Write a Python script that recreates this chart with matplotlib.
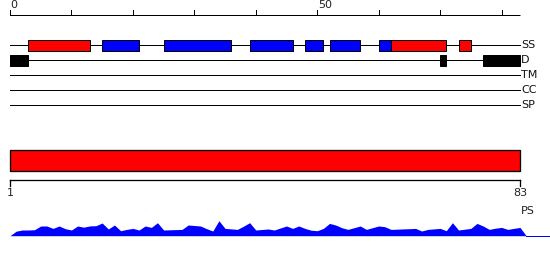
import matplotlib
matplotlib.use("Agg")
import matplotlib.pyplot as plt
from matplotlib.patches import Rectangle

# ---------------- data ----------------
seq_len = 83
track_names = ["SS", "D", "TM", "CC", "SP"]
helix_segments = [(4, 13), (63, 71), (74, 75)]          # red, 1-indexed residues
strand_segments = [(16, 21), (26, 36), (40, 46), (49, 51), (53, 57), (61, 62)]  # blue
disorder_segments = [(1, 3), (71, 71), (78, 83)]         # black
top_tick_values = [0, 10, 20, 30, 40, 50, 60, 70, 80]
top_tick_labels = ["0", "", "", "", "", "50", "", "", ""]
ps_domain = (1, 83)
ps_tick_labels = ["1", "83"]
profile = [0, 4.5, 5.7, 5.7, 6.0, 9.7, 9.7, 7.3, 9.7, 7.0,
           5.7, 9.7, 8.5, 9.8, 10.0, 12.7, 6.7, 10.7, 5.0, 6.3,
           7.3, 5.7, 9.7, 8.3, 13.0, 5.7, 5.9, 6.1, 6.3, 10.7,
           10.2, 9.7, 7.0, 4.7, 15.0, 7.3, 6.8, 6.3, 9.5, 13.0,
           5.7, 6.2, 6.7, 5.7, 7.7, 9.7, 7.3, 9.7, 7.3, 5.5,
           5.0, 7.3, 12.3, 10.7, 8.0, 6.3, 8.0, 9.7, 6.3, 8.0,
           9.7, 9.0, 6.3, 6.5, 6.8, 7.0, 7.3, 4.7, 6.3, 6.8,
           7.3, 5.0, 13.0, 5.7, 6.5, 7.3, 12.3, 9.7, 6.3, 7.5,
           8.3, 6.3, 7.3, 8.3, 0]

# ---------------- layout ----------------
W, H, DPI = 550, 260, 100
X0, X1 = 10, 520            # pixel span of the sequence
LW = 72 / DPI               # 1 px
FS = 8

fig = plt.figure(figsize=(W / DPI, H / DPI), dpi=DPI)
ax = fig.add_axes([0, 0, 1, 1])
s = (X1 - X0) / seq_len
ax.set_xlim(-X0 / s, (W - X0) / s)
ax.set_ylim(H, 0)
ax.axis("off")

ax2 = fig.add_axes([0, 0, 1, 1])
ax2.patch.set_alpha(0)
s2 = (X1 - X0) / (ps_domain[1] - ps_domain[0])
ax2.set_xlim(ps_domain[0] - X0 / s2, ps_domain[0] + (W - X0) / s2)
ax2.set_ylim(H, 0)
ax2.axis("off")

# top ruler
ruler_y, tick_len = 15, 5
ax.plot([0, seq_len], [ruler_y, ruler_y], color="black", lw=LW, solid_capstyle="butt")
for v, lab in zip(top_tick_values, top_tick_labels):
    ax.plot([v, v], [ruler_y, ruler_y - tick_len], color="black", lw=LW)
    if lab:
        ax.text(v + 0.1, ruler_y - tick_len - 0.5, lab, ha="left", va="bottom",
                fontsize=FS, color="#222222")

# tracks
row_y = {"SS": 45.3, "D": 60.3, "TM": 75.3, "CC": 90.3, "SP": 105.3}
box_h = 10.7
for name in track_names:
    y = row_y[name]
    ax.plot([0, seq_len], [y, y], color="black", lw=LW, zorder=1)
    ax.text(seq_len + 0.15, y, name, ha="left", va="center", fontsize=FS, color="#111111")

for a, b in strand_segments:
    ax.add_patch(Rectangle((a - 1, row_y["SS"] - box_h / 2), b - a + 1, box_h,
                           facecolor="#0000ff", edgecolor="black", lw=LW, zorder=2))
for a, b in helix_segments:
    ax.add_patch(Rectangle((a - 1, row_y["SS"] - box_h / 2), b - a + 1, box_h,
                           facecolor="#ff0000", edgecolor="black", lw=LW, zorder=3))
for a, b in disorder_segments:
    ax.add_patch(Rectangle((a - 1, row_y["D"] - box_h / 2), b - a + 1, box_h,
                           facecolor="black", edgecolor="black", lw=LW, zorder=2))

# PS domain bar
bar_top, bar_h = 150, 20.7
ax2.add_patch(Rectangle((ps_domain[0], bar_top), ps_domain[1] - ps_domain[0], bar_h,
                        facecolor="#ff0000", edgecolor="black", lw=LW * 1.3))
axis_y = 180.3
ax2.plot([ps_domain[0], ps_domain[1]], [axis_y, axis_y], color="black", lw=LW * 1.3)
for v, lab in zip(ps_domain, ps_tick_labels):
    ax2.plot([v, v], [axis_y, axis_y + 5.3], color="black", lw=LW * 1.3)
    ax2.text(v, axis_y + 8, lab, ha="center", va="top", fontsize=FS, color="#222222")
ax2.text(ps_domain[1] + 0.2, 211, "PS", ha="left", va="center", fontsize=FS, color="#222222")

# profile
base = 235.7
xs = list(range(len(profile)))
ax.fill_between(xs, [base] * len(xs), [base - h for h in profile],
                color="#0000ff", lw=0, zorder=2)
ax.plot([xs[-1], ax.get_xlim()[1]], [base, base], color="#0000ff", lw=LW)

fig.savefig("out.png", dpi=DPI)
